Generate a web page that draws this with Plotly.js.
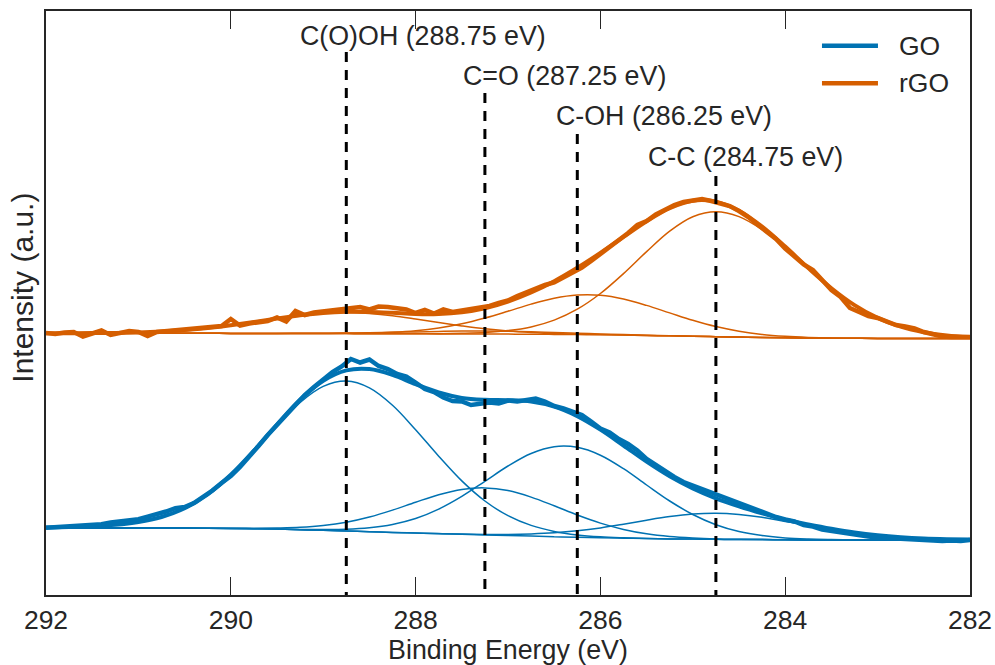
<!DOCTYPE html>
<html>
<head>
<meta charset="utf-8">
<script src="https://cdn.plot.ly/plotly-3.0.1.min.js"></script>
<style>
html,body{margin:0;padding:0;background:#ffffff;}
#chart{width:995px;height:665px;}
</style>
</head>
<body>
<div id="chart"></div>
<script>
// ---------------- DATA ----------------
// Binding energy grid (eV) for the fitted components
const componentEnergy = [292,291.75,291.5,291.25,291,290.75,290.5,290.25,290,289.75,289.5,289.25,289,288.75,288.5,288.25,288,287.75,287.5,287.25,287,286.75,286.5,286.25,286,285.75,285.5,285.25,285,284.75,284.5,284.25,284,283.75,283.5,283.25,283,282.75,282.5,282.25,282];

// GO fit (intensity, a.u.)
const goBackground = [67.0,67.0,67.0,67.0,67.0,66.9,66.9,66.8,66.6,66.3,65.9,65.3,64.7,64.0,63.3,62.6,61.9,61.3,60.7,60.1,59.5,58.9,58.3,57.7,57.2,56.8,56.4,56.1,55.9,55.7,55.5,55.4,55.2,55.1,55.1,55.0,55.0,55.0,55.0,55.0,55.0];
const goCOOH = [67.5,68.0,68.8,70.2,73.0,78.0,86.7,100.6,120.0,143.8,169.3,192.5,208.6,214.0,207.2,189.8,165.3,138.8,114.1,94.0,79.3,69.6,63.6,60.1,58.2,57.2,56.5,56.1,55.9,55.7,55.5,55.4,55.2,55.1,55.1,55.0,55.0,55.0,55.0,55.0,55.0];
const goCO = [67.0,67.0,67.0,67.0,67.0,66.9,66.9,66.8,66.7,66.7,67.0,67.7,69.5,72.8,78.0,84.9,92.8,100.3,105.6,107.1,104.4,97.9,89.2,80.0,71.9,65.6,61.2,58.5,57.0,56.1,55.7,55.4,55.2,55.1,55.1,55.0,55.0,55.0,55.0,55.0,55.0];
const goCOH = [67.0,67.0,67.0,67.0,67.0,66.9,66.9,66.8,66.6,66.3,66.0,65.6,65.5,65.8,67.3,70.6,76.5,85.9,98.6,113.7,129.0,141.5,148.3,147.7,139.8,126.3,110.0,94.0,80.5,70.3,63.5,59.4,57.0,55.9,55.4,55.1,55.0,55.0,55.0,55.0,55.0];
const goCC = [67.0,67.0,67.0,67.0,67.0,66.9,66.9,66.8,66.6,66.3,65.9,65.3,64.7,64.0,63.3,62.6,62.0,61.4,60.9,60.6,60.6,61.1,62.2,64.2,67.1,70.8,74.8,78.4,80.9,81.7,80.5,77.7,73.6,69.8,66.0,62.5,59.8,57.8,56.5,55.8,55.4];
const goFit = [67.5,68.0,68.8,70.2,73.0,78.0,86.7,100.7,120.2,144.3,170.5,195.2,214.2,224.6,225.9,220.1,210.8,202.5,197.1,195.2,194.8,193.4,188.4,178.9,165.4,149.5,133.3,118.7,106.6,96.7,88.7,81.7,75.4,70.6,66.3,62.6,59.8,57.8,56.5,55.8,55.4];

// rGO fit (intensity, a.u.)
const rgoBackground = [261.7,261.7,261.7,261.7,261.7,261.7,261.7,261.7,261.6,261.6,261.6,261.5,261.5,261.4,261.3,261.3,261.2,261.1,261.1,261.0,260.9,260.8,260.6,260.4,260.2,259.9,259.5,259.2,258.7,258.3,257.9,257.5,257.2,257.0,256.8,256.7,256.6,256.5,256.5,256.5,256.5];
const rgoCOOH = [261.7,261.8,261.9,262.1,262.6,263.5,264.9,266.9,269.7,272.9,276.4,279.5,281.7,282.4,281.5,279.3,276.0,272.4,269.1,266.2,264.1,262.6,261.5,260.9,260.4,260.0,259.5,259.2,258.7,258.3,257.9,257.5,257.2,257.0,256.8,256.7,256.6,256.5,256.5,256.5,256.5];
const rgoCO = [261.7,261.7,261.7,261.7,261.7,261.7,261.7,261.7,261.6,261.6,261.6,261.7,261.8,261.9,262.2,262.7,263.1,263.6,264.0,264.0,263.8,263.3,262.5,261.8,261.1,260.4,259.8,259.3,258.7,258.3,257.9,257.5,257.2,257.0,256.8,256.7,256.6,256.5,256.5,256.5,256.5];
const rgoCOH = [261.7,261.7,261.7,261.7,261.7,261.7,261.7,261.7,261.6,261.6,261.6,261.5,261.6,261.7,262.0,262.8,264.3,267.0,271.2,277.0,283.8,290.9,296.7,299.9,299.7,296.0,289.6,282.1,274.7,268.4,263.8,260.6,258.7,257.6,257.0,256.8,256.6,256.5,256.5,256.5,256.5];
const rgoCC = [261.7,261.7,261.7,261.7,261.7,261.7,261.7,261.7,261.6,261.6,261.6,261.5,261.5,261.4,261.3,261.3,261.2,261.3,261.7,262.5,264.4,268.1,274.9,285.8,301.5,321.4,343.4,363.9,378.3,383.3,378.4,365.3,346.9,326.3,306.5,289.8,277.1,268.3,262.8,259.6,257.9];
const rgoFit = [261.7,261.8,261.9,262.1,262.6,263.5,264.9,266.9,269.7,272.9,276.4,279.7,282.1,283.2,283.1,282.2,281.0,281.0,282.7,286.7,293.4,302.5,313.8,327.2,342.1,358.1,373.8,386.9,394.3,393.4,384.3,368.4,348.4,326.9,306.8,289.9,277.1,268.3,262.8,259.6,257.9];

// Measured spectra
const spectrumEnergy = [292.0,291.9,291.8,291.7,291.6,291.5,291.4,291.3,291.2,291.1,291.0,290.9,290.8,290.7,290.6,290.5,290.4,290.3,290.2,290.1,290.0,289.9,289.8,289.7,289.6,289.5,289.4,289.3,289.2,289.1,289.0,288.9,288.8,288.7,288.6,288.5,288.4,288.3,288.2,288.1,288.0,287.9,287.8,287.7,287.6,287.5,287.4,287.3,287.2,287.1,287.0,286.9,286.8,286.7,286.6,286.5,286.4,286.3,286.2,286.1,286.0,285.9,285.8,285.7,285.6,285.5,285.4,285.3,285.2,285.1,285.0,284.9,284.8,284.7,284.6,284.5,284.4,284.3,284.2,284.1,284.0,283.9,283.8,283.7,283.6,283.5,283.4,283.3,283.2,283.1,283.0,282.9,282.8,282.7,282.6,282.5,282.4,282.3,282.2,282.1,282.0];
const goMeasured = [67.3,67.8,68.6,69.3,68.9,70.0,70.8,72.4,73.2,75.0,75.8,78.3,80.6,83.5,86.9,88.0,92.0,98.0,104.5,112.0,119.0,128.0,138.0,149.0,160.0,170.0,181.0,191.0,200.0,208.0,215.0,223.0,228.5,236.0,232.5,235.5,229.0,226.0,221.0,218.5,212.5,206.0,203.0,197.5,194.0,193.5,190.0,191.5,192.5,191.5,194.5,193.5,195.5,196.5,193.5,189.0,186.5,183.0,180.0,173.5,166.5,162.5,156.0,151.0,144.5,136.0,130.0,123.5,118.0,113.0,109.5,106.0,102.5,98.0,94.5,91.0,87.5,85.0,81.5,78.0,75.5,73.5,70.0,68.5,65.5,64.0,62.5,60.5,59.5,58.5,57.5,57.0,56.0,55.5,55.0,55.5,54.5,54.0,54.5,54.0,55.0];
const rgoMeasured = [262.0,261.0,262.5,263.0,258.5,262.0,264.5,260.0,262.0,264.0,263.0,259.0,263.0,264.0,264.5,265.0,267.0,268.0,268.5,269.0,276.0,269.5,271.5,272.5,274.0,277.5,273.5,284.0,280.0,282.5,283.5,285.0,285.5,287.5,288.0,285.5,288.5,288.0,286.5,285.5,282.0,285.0,281.5,285.5,283.0,284.5,286.5,288.0,289.0,292.0,294.5,299.0,303.0,306.0,310.0,312.5,317.5,322.0,327.5,334.0,341.0,347.5,355.0,362.0,370.0,374.0,380.5,385.0,390.0,393.0,395.0,396.0,394.0,391.5,389.0,384.0,378.0,370.5,363.0,356.0,346.5,338.0,330.5,325.0,314.5,305.0,298.0,287.0,283.0,279.0,277.0,273.5,270.0,268.5,266.5,263.0,260.5,258.5,258.0,258.0,258.0];

// Reference binding energies
const peakNames = ['C(O)OH','C=O','C-OH','C-C'];
const peakEnergies = [288.75, 287.25, 286.25, 284.75];
const peakLineTop = [543, 502, 461, 419];
const seriesNames = ['GO','rGO'];
const xTicks = [292,290,288,286,284,282];

// ---------------- STYLE / LAYOUT ----------------
const BLUE = '#0072B2', ORANGE = '#D55E00', INK = '#262626';
const FONT = 'Liberation Sans, Arial, Helvetica, sans-serif';

function thin(y, color, name){
  return {x: componentEnergy, y: y, type:'scatter', mode:'lines', name:name,
    line:{color:color, width:1.5, shape:'spline'}, showlegend:false, hoverinfo:'skip'};
}
function thick(x, y, color, name, shape, w){
  return {x: x, y: y, type:'scatter', mode:'lines', name:name,
    line:{color:color, width:w, shape:shape}, showlegend:false, hoverinfo:'skip'};
}

const traces = [];
// rGO
[rgoBackground, rgoCOOH, rgoCO, rgoCOH, rgoCC].forEach(a => traces.push(thin(a, ORANGE, 'rGO component')));
traces.push(thick(componentEnergy, rgoFit, ORANGE, 'rGO fit', 'spline', 4));
traces.push(thick(spectrumEnergy, rgoMeasured, ORANGE, 'rGO', 'linear', 4.5));
// GO
[goBackground, goCOOH, goCO, goCOH, goCC].forEach(a => traces.push(thin(a, BLUE, 'GO component')));
traces.push(thick(componentEnergy, goFit, BLUE, 'GO fit', 'spline', 4));
traces.push(thick(spectrumEnergy, goMeasured, BLUE, 'GO', 'linear', 4.5));

// dashed reference lines
peakEnergies.forEach((e, i) => {
  traces.push({x:[e, e], y:[peakLineTop[i], 0], type:'scatter', mode:'lines',
    line:{color:'#000000', width:3, dash:'10px,8px'}, showlegend:false, hoverinfo:'skip'});
});

// label positions (data coordinates)
const labelX = [287.92, 286.39, 285.315, 284.43];
const labelY = [559, 519, 479, 438];
const annotations = peakNames.map((n, i) => ({
  x: labelX[i], y: labelY[i], xref:'x', yref:'y',
  text: n + ' (' + peakEnergies[i].toFixed(2) + ' eV)',
  showarrow:false, xanchor:'center', yanchor:'middle',
  font:{family:FONT, size:26.8, color:INK}
}));

// y-axis title (placed as rotated text to match the reference offset)
annotations.push({x:-0.0255, y:0.527, xref:'paper', yref:'paper', text:'Intensity (a.u.)',
  textangle:-90, showarrow:false, xanchor:'center', yanchor:'middle',
  font:{family:FONT, size:30, color:INK}});

// legend (drawn manually to match long sample lines)
const legendColors = [BLUE, ORANGE];
const legendY = [0.9406, 0.8762];
const shapes = [];
seriesNames.forEach((n, i) => {
  shapes.push({type:'line', xref:'paper', yref:'paper', x0:0.8398, x1:0.9004, y0:legendY[i], y1:legendY[i],
    line:{color:legendColors[i], width:4.5}});
  annotations.push({x:0.9212, y:legendY[i], xref:'paper', yref:'paper', text:n, showarrow:false,
    xanchor:'left', yanchor:'middle', font:{family:FONT, size:26.5, color:INK}});
});

const layout = {
  width: 995, height: 665,
  margin: {l:46, r:25, t:11, b:70, pad:0},
  paper_bgcolor:'#ffffff', plot_bgcolor:'#ffffff',
  showlegend:false,
  font:{family:FONT, color:INK},
  xaxis: {
    range:[292, 282], tickvals:xTicks, ticktext:xTicks.map(String),
    ticks:'inside', ticklen:18, tickwidth:1.3, tickcolor:INK,
    showline:true, linecolor:INK, linewidth:2, mirror:'ticks',
    showgrid:false, zeroline:false, automargin:false,
    tickfont:{family:FONT, size:26.5, color:INK},
    title:{text:'Binding Energy (eV)', font:{family:FONT, size:26.8, color:INK}, standoff:9}
  },
  yaxis: {
    range:[0, 584], showticklabels:false, ticks:'',
    showline:true, linecolor:INK, linewidth:2, mirror:true,
    showgrid:false, zeroline:false, automargin:false
  },
  annotations: annotations,
  shapes: shapes
};

Plotly.newPlot('chart', traces, layout, {staticPlot:true, displayModeBar:false});
</script>
</body>
</html>
